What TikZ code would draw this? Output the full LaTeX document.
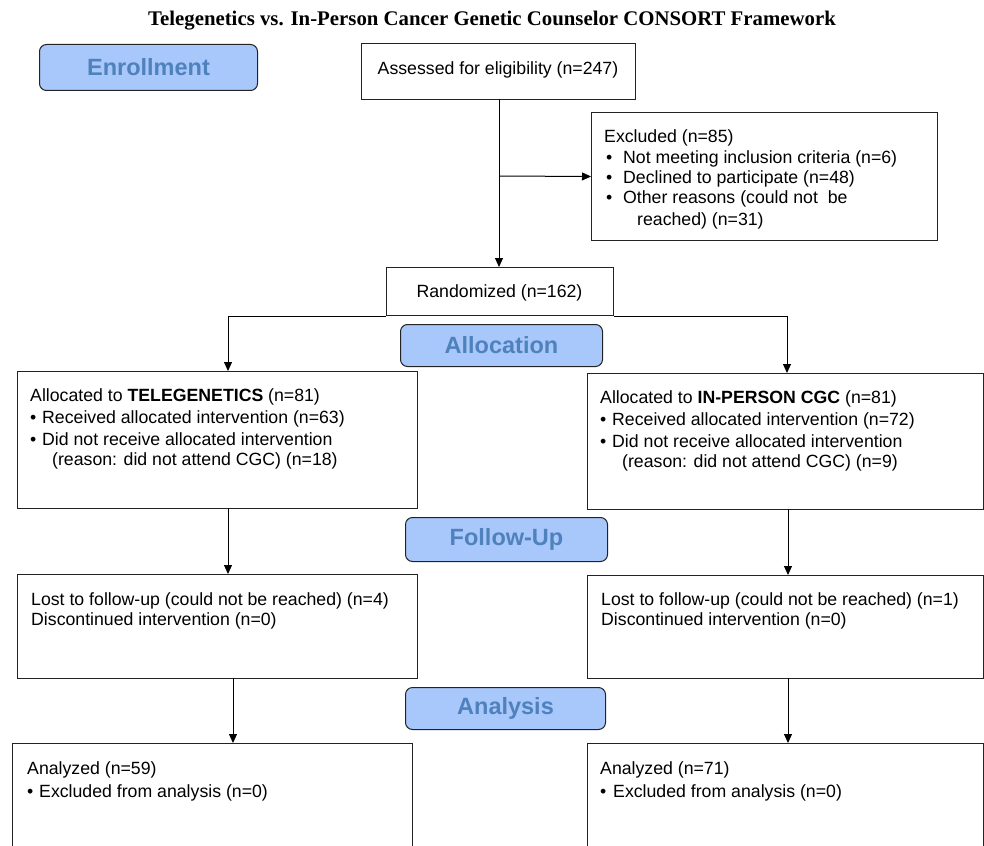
\documentclass[tikz,border=0pt]{standalone}
\usepackage{fontspec}
\setmainfont{Liberation Sans}
\newfontfamily\titlefont{Liberation Serif}
\usetikzlibrary{arrows.meta}
\definecolor{stagefill}{RGB}{168,199,250}
\definecolor{stagetext}{RGB}{79,129,189}
\definecolor{boxline}{RGB}{35,35,35}
\begin{document}
\begin{tikzpicture}[x=1pt,y=-1pt,
  box/.style={draw=boxline, line width=1pt, inner sep=0pt, anchor=north west},
  stage/.style={draw=boxline, line width=1pt, fill=stagefill, rounded corners=7pt,
    inner sep=0pt, anchor=north west, font=\fontsize{23.5}{26}\selectfont\bfseries, text=stagetext},
  txt/.style={anchor=base west, inner sep=0pt, font=\fontsize{17.7}{20}\selectfont},
  ctxt/.style={txt, anchor=base},
  conn/.style={draw=black, line width=1pt},
  arr/.style={conn, -{Triangle[length=9pt,width=8pt]}}]
\path[use as bounding box, clip] (0,0) rectangle (984,845);
\fill[white] (0,0) rectangle (984,845);

% title
\node[inner sep=0pt, font=\titlefont\fontsize{20.8}{24}\selectfont\bfseries] (title) at (492,21)
  {Telegenetics vs. In-Person Cancer Genetic Counselor CONSORT Framework};

% stage labels
\node[stage, minimum width=218pt, minimum height=46pt] (enroll) at (39,44) {Enrollment};
\node[stage, minimum width=202pt, minimum height=42pt] (alloc) at (400,324) {Allocation};
\node[stage, minimum width=202pt, minimum height=44pt] (follow) at (405,517) {Follow-Up};
\node[stage, minimum width=200pt, minimum height=42pt] (analysis) at (405,687) {Analysis};

% boxes
\node[box, minimum width=274pt, minimum height=56pt] (assess) at (361,43) {};
\node[box, minimum width=346pt, minimum height=128pt] (excl) at (591,112) {};
\node[box, minimum width=227pt, minimum height=48pt] (rand) at (386,267) {};
\node[box, minimum width=400pt, minimum height=137pt] (tele) at (17,371) {};
\node[box, minimum width=396pt, minimum height=136pt] (inper) at (587,373) {};
\node[box, minimum width=400pt, minimum height=104pt] (tfu) at (17,574) {};
\node[box, minimum width=396pt, minimum height=103pt] (ifu) at (587,575) {};
\node[box, minimum width=400pt, minimum height=130pt] (tan) at (12,743) {};
\node[box, minimum width=396pt, minimum height=130pt] (ian) at (587,743) {};

% texts
\node[ctxt] (assesst) at (498,75) {Assessed for eligibility (n=247)};

\node[txt] (ex0) at (604,143) {Excluded (n=85)};
\node[txt] (exb1) at (606,164) {•};
\node[txt] (ex1) at (623,164) {Not meeting inclusion criteria (n=6)};
\node[txt] (exb2) at (606,183) {•};
\node[txt] (ex2) at (623,183) {Declined to participate (n=48)};
\node[txt] (exb3) at (606,204) {•};
\node[txt] (ex3) at (623,204) {Other reasons (could not\ \ be};
\node[txt] (ex4) at (637,225) {reached) (n=31)};

\node[ctxt] (randt) at (499.5,297) {Randomized (n=162)};

\node[txt] (te0) at (30,401) {Allocated to \textbf{TELEGENETICS} (n=81)};
\node[txt] (teb1) at (30,423) {•};
\node[txt] (te1) at (42,423) {Received allocated intervention (n=63)};
\node[txt] (teb2) at (30,445) {•};
\node[txt] (te2) at (42,445) {Did not receive allocated intervention};
\node[txt] (te3) at (52,465) {(reason: did not attend CGC) (n=18)};

\node[txt] (ip0) at (600,403) {Allocated to \textbf{IN-PERSON CGC} (n=81)};
\node[txt] (ipb1) at (600,425) {•};
\node[txt] (ip1) at (612,425) {Received allocated intervention (n=72)};
\node[txt] (ipb2) at (600,447) {•};
\node[txt] (ip2) at (612,447) {Did not receive allocated intervention};
\node[txt] (ip3) at (622,467) {(reason: did not attend CGC) (n=9)};

\node[txt] (tf1) at (31,605) {Lost to follow-up (could not be reached) (n=4)};
\node[txt] (tf2) at (31,625) {Discontinued intervention (n=0)};
\node[txt] (if1) at (601,605) {Lost to follow-up (could not be reached) (n=1)};
\node[txt] (if2) at (601,625) {Discontinued intervention (n=0)};

\node[txt] (ta1) at (27,774) {Analyzed (n=59)};
\node[txt] (tab2) at (27,797) {•};
\node[txt] (ta2) at (39,797) {Excluded from analysis (n=0)};
\node[txt] (ia1) at (600,774) {Analyzed (n=71)};
\node[txt] (iab2) at (600,797) {•};
\node[txt] (ia2) at (613,797) {Excluded from analysis (n=0)};

% connector points
\coordinate (split) at (499,176);
\coordinate (telein) at (228,371);
\coordinate (inperin) at (787,373);
\coordinate (teleout) at (228,508);
\coordinate (tfuin) at (228,574);
\coordinate (inperout) at (788,509);
\coordinate (ifuin) at (788,575);
\coordinate (tfuout) at (233,678);
\coordinate (tanin) at (233,743);
\coordinate (ifuout) at (788,678);
\coordinate (ianin) at (788,743);
\coordinate (assessout) at (499,99);
\coordinate (randin) at (499,267);

% connectors
\draw[arr] (assessout) -- (randin);
\draw[arr] (split) -- (excl.west);
\draw[arr] (rand.south west) -| (telein);
\draw[arr] (rand.south east) -| (inperin);
\draw[arr] (teleout) -- (tfuin);
\draw[arr] (inperout) -- (ifuin);
\draw[arr] (tfuout) -- (tanin);
\draw[arr] (ifuout) -- (ianin);
\end{tikzpicture}
\end{document}
